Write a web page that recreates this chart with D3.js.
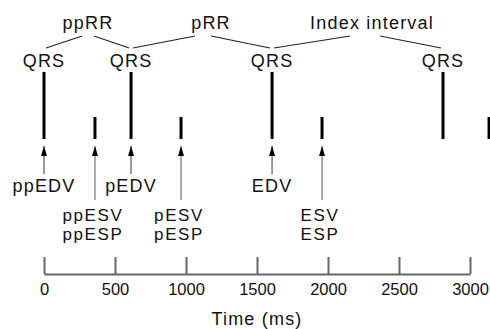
<!DOCTYPE html>
<html>
<head>
    <script src="https://cdn.jsdelivr.net/npm/d3@7/dist/d3.min.js" type="text/javascript"></script>
    <style>
        body { margin: 0; background: #fff; }
        text { font-family: "Liberation Sans", Arial, Helvetica, sans-serif; fill: #111; }
    </style>
</head>
<body>
    <div id="viz"></div>
    <script type="text/javascript">

    // event times in ms
    var qrsTimes = [0, 613, 1606, 2810];
    var edvLabels = ["ppEDV", "pEDV", "EDV"];
    var esvTimes = [359, 965, 1958, 3134];
    var esvLabels = [["ppESV", "ppESP"], ["pESV", "pESP"], ["ESV", "ESP"]];
    // RR intervals: between QRS i and i+1, label centre and line gap (ms)
    var intervalNames = ["ppRR", "pRR", "Index interval"];
    var intervalLabelAt = [310, 1176, 2310];
    var intervalGap = [[268, 352], [1063, 1176], [2155, 2366]];
    var tickValues = [0, 500, 1000, 1500, 2000, 2500, 3000];

    var W = 490, H = 329;
    var x = d3.scaleLinear().domain([0, 3000]).range([44, 470]);

    var svg = d3.select("#viz").append("svg")
        .attr("width", W)
        .attr("height", H);

    svg.append("defs").append("marker")
        .attr("id", "head")
        .attr("viewBox", "0 0 6 10")
        .attr("refX", 3).attr("refY", 0)
        .attr("markerWidth", 6).attr("markerHeight", 10)
        .attr("markerUnits", "userSpaceOnUse")
        .attr("orient", "0")
        .append("path")
        .attr("d", "M3,0 L6,10 L0,10 Z")
        .style("fill", "#000");

    var lbl = function(sel, size) {
        return sel.attr("text-anchor", "middle")
            .style("font-size", (size || 18) + "px")
            .style("letter-spacing", size ? "1.6px" : "1.2px");
    };

    // interval labels and their roof lines
    intervalNames.forEach(function(name, i) {
        var a = x(qrsTimes[i]), b = x(qrsTimes[i + 1]);
        lbl(svg.append("text"))
            .attr("x", x(intervalLabelAt[i]))
            .attr("y", 29)
            .text(name);
        svg.append("line")
            .attr("x1", a + 2).attr("y1", 48)
            .attr("x2", x(intervalGap[i][0])).attr("y2", 36)
            .style("stroke", "#222").style("stroke-width", 1.2);
        svg.append("line")
            .attr("x1", x(intervalGap[i][1])).attr("y1", 36)
            .attr("x2", b - 2).attr("y2", 48)
            .style("stroke", "#222").style("stroke-width", 1.2);
    });

    // QRS markers
    qrsTimes.forEach(function(t) {
        lbl(svg.append("text"))
            .attr("x", x(t)).attr("y", 67)
            .text("QRS");
        svg.append("line")
            .attr("x1", x(t)).attr("x2", x(t))
            .attr("y1", 72).attr("y2", 139)
            .style("stroke", "#000").style("stroke-width", 3);
    });

    // end-systole markers
    esvTimes.forEach(function(t) {
        svg.append("line")
            .attr("x1", x(t)).attr("x2", x(t))
            .attr("y1", 117).attr("y2", 139)
            .style("stroke", "#000").style("stroke-width", 3);
    });

    // EDV arrows
    edvLabels.forEach(function(name, i) {
        var px = x(qrsTimes[i]);
        svg.append("line")
            .attr("x1", px).attr("x2", px)
            .attr("y1", 174).attr("y2", 146)
            .attr("marker-end", "url(#head)")
            .style("stroke", "#333").style("stroke-width", 1);
        lbl(svg.append("text"))
            .attr("x", px).attr("y", 192)
            .text(name);
    });

    // ESV / ESP arrows
    esvLabels.forEach(function(pair, i) {
        var px = x(esvTimes[i]);
        svg.append("line")
            .attr("x1", px).attr("x2", px)
            .attr("y1", 200).attr("y2", 146)
            .attr("marker-end", "url(#head)")
            .style("stroke", "#555").style("stroke-width", 1);
        pair.forEach(function(s, j) {
            lbl(svg.append("text"), 17)
                .attr("x", px - 2).attr("y", 221 + j * 19)
                .text(s);
        });
    });

    // time axis, ticks pointing up
    var axis = svg.append("g")
        .attr("transform", "translate(0,274)")
        .call(d3.axisTop(x).tickValues(tickValues).tickSize(17).tickSizeOuter(0).tickFormat(d3.format("d")));
    axis.select(".domain").style("stroke", "#666").style("stroke-width", 2);
    axis.selectAll(".tick line").style("stroke", "#666").style("stroke-width", 2);
    axis.selectAll(".tick text")
        .attr("y", 21)
        .attr("dy", 0)
        .style("font-size", "16.5px")
        .style("font-family", "'Liberation Sans', Arial, sans-serif")
        .style("fill", "#111");

    lbl(svg.append("text"))
        .attr("x", 257).attr("y", 325)
        .text("Time (ms)");

    </script>
</body>
</html>
